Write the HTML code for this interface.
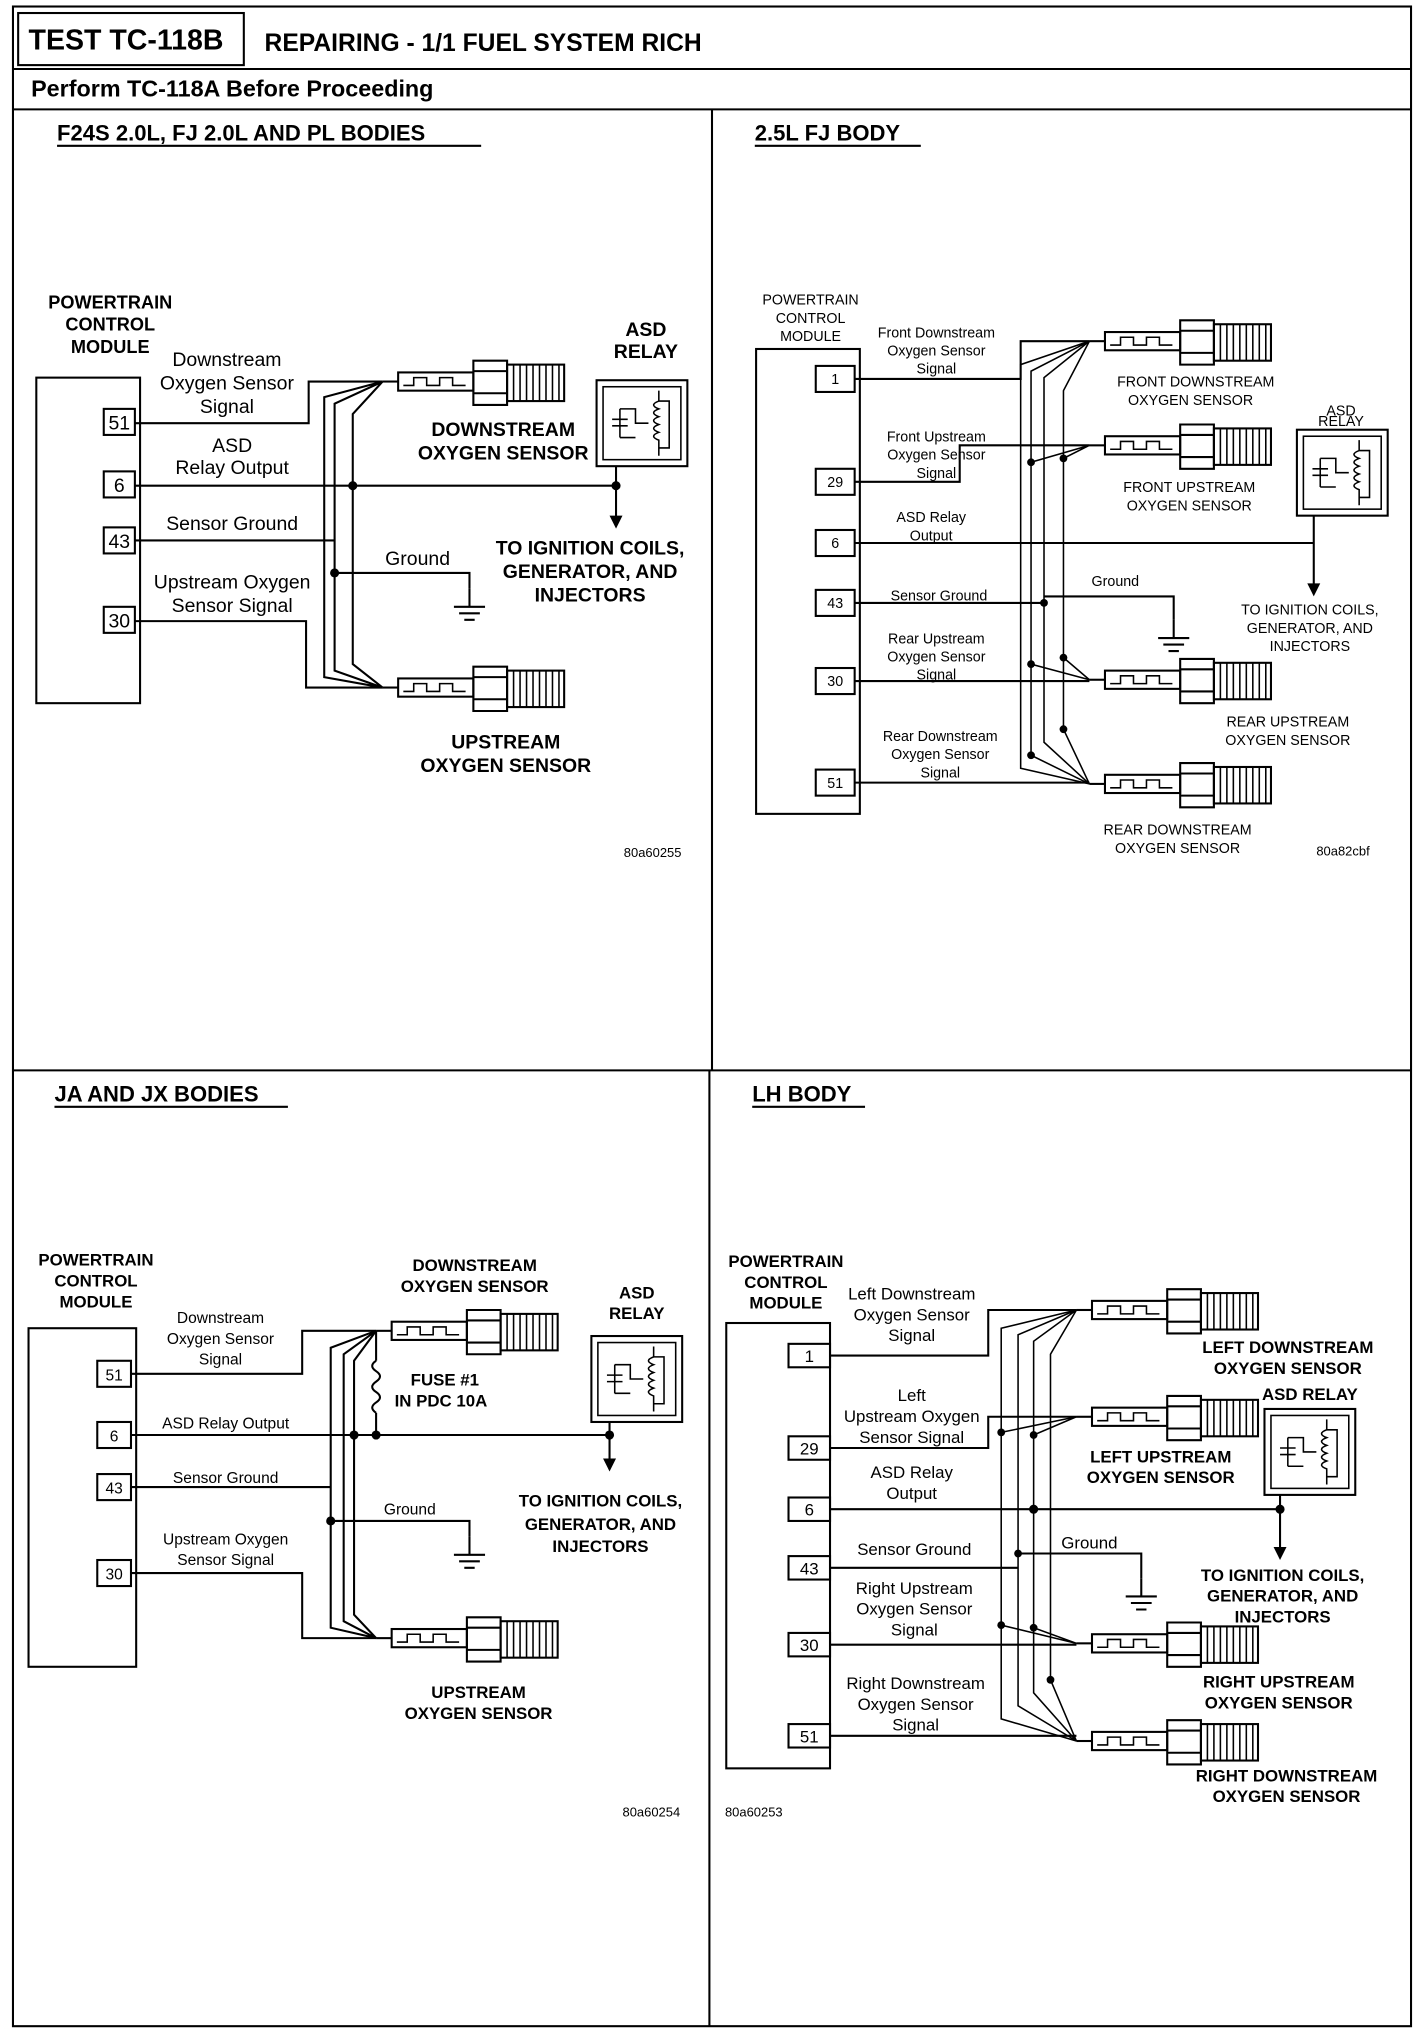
<!DOCTYPE html>
<html><head><meta charset="utf-8">
<style>
html,body{margin:0;padding:0;background:#fff;}
svg{display:block;}
text{font-family:"Liberation Sans",Arial,sans-serif;fill:#000;}
.b{font-weight:bold;}
.w{stroke:#000;stroke-width:1.6;fill:none;}
.t{stroke:#000;stroke-width:1.2;fill:none;}
</style></head><body>
<svg width="1424" height="2034" viewBox="0 0 1098 1562" preserveAspectRatio="none" xmlns="http://www.w3.org/2000/svg">
<defs>
<g id="sen">
 <line x1="0" y1="0" x2="12" y2="0" class="w"/>
 <rect x="12" y="-7" width="58" height="14" class="w" fill="#fff"/>
 <polyline points="16,3 24,3 24,-3 34,-3 34,3 44,3 44,-3 54,-3 54,3 64,3" class="t"/>
 <path d="M70,-16 L96,-16 L96,18 L70,18 Z M70,-8 L96,-8 M70,9 L96,9" class="w" fill="#fff"/>
 <rect x="96" y="-13" width="44" height="28" class="w" fill="#fff"/>
 <path d="M101,-13V15 M106,-13V15 M111,-13V15 M116,-13V15 M121,-13V15 M126,-13V15 M131,-13V15 M136,-13V15" class="t"/>
</g>
<g id="relay">
 <rect x="0" y="0" width="70" height="66" class="w"/>
 <rect x="5" y="5" width="60" height="56" class="t"/>
 <path d="M18,22 V44 M12,30 H24 M12,35 H24 M18,22 H30 V33 H40 M18,44 H30" class="t"/>
 <path d="M48,8 V16 q-8,3 0,6 q-8,3 0,6 q-8,3 0,6 q-8,3 0,6 q-8,3 0,6 V58 M48,16 H56 V52 H48" class="t"/>
</g>
<g id="gnd"><path d="M0,0 V14 M-12,14 H12 M-8,19 H8 M-4,24 H4" class="w"/></g>
</defs>

<!-- frame -->
<rect x="10" y="5" width="1078" height="1551" class="w" stroke-width="2"/>
<rect x="14" y="10" width="174" height="40" class="w" stroke-width="2"/>
<text x="22" y="38" class="b" font-size="22">TEST TC-118B</text>
<text x="204" y="39" class="b" font-size="19">REPAIRING - 1/1 FUEL SYSTEM RICH</text>
<line x1="10" y1="53" x2="1088" y2="53" class="w"/>
<text x="24" y="74" class="b" font-size="18">Perform TC-118A Before Proceeding</text>
<line x1="10" y1="84" x2="1088" y2="84" class="w" stroke-width="2"/>
<line x1="549" y1="84" x2="549" y2="822" class="w"/>
<line x1="547" y1="822" x2="547" y2="1556" class="w"/>
<line x1="10" y1="822" x2="1088" y2="822" class="w"/>

<!-- Q1 -->
<text x="44" y="108" class="b" font-size="17">F24S 2.0L, FJ 2.0L AND PL BODIES</text>
<line x1="44" y1="112" x2="371" y2="112" class="w"/>
<g class="b" font-size="14" text-anchor="middle"><text x="85" y="237">POWERTRAIN</text><text x="85" y="254">CONTROL</text><text x="85" y="271">MODULE</text></g>
<rect x="28" y="290" width="80" height="250" class="w"/>
<g font-size="15" text-anchor="middle"><rect x="80" y="314" width="24" height="20" class="w"/><text x="92" y="330">51</text>
<rect x="80" y="362" width="24" height="20" class="w"/><text x="92" y="378">6</text>
<rect x="80" y="405" width="24" height="20" class="w"/><text x="92" y="421">43</text>
<rect x="80" y="466" width="24" height="20" class="w"/><text x="92" y="482">30</text></g>
<g font-size="15" text-anchor="middle"><text x="175" y="281">Downstream</text><text x="175" y="299">Oxygen Sensor</text><text x="175" y="317">Signal</text>
<text x="179" y="347">ASD</text><text x="179" y="364">Relay Output</text><text x="179" y="407">Sensor Ground</text>
<text x="179" y="452">Upstream Oxygen</text><text x="179" y="470">Sensor Signal</text><text x="322" y="434">Ground</text></g>
<path d="M104,325 H238 V293 H295 M104,373 H475 M104,415 H258 M258,440 H362 V452 M104,477 H236 V528 H295" class="w"/>
<path d="M295,293 L250,305 V520 L295,528 M295,293 L258,310 V515 L295,528 M295,293 L272,318 V510 L295,528" class="w"/>
<circle cx="272" cy="373" r="3.5"/><circle cx="258" cy="440" r="3.5"/><circle cx="475" cy="373" r="3.5"/>
<use href="#gnd" x="362" y="452"/>
<use href="#sen" x="295" y="293"/><use href="#sen" x="295" y="528"/>
<use href="#relay" x="460" y="292"/>
<path d="M475,358 V398" class="w"/><path d="M470,396 L475,406 L480,396 Z"/>
<g class="b" font-size="15" text-anchor="middle"><text x="498" y="258">ASD</text><text x="498" y="275">RELAY</text>
<text x="388" y="335">DOWNSTREAM</text><text x="388" y="353">OXYGEN SENSOR</text>
<text x="455" y="426">TO IGNITION COILS,</text><text x="455" y="444">GENERATOR, AND</text><text x="455" y="462">INJECTORS</text>
<text x="390" y="575">UPSTREAM</text><text x="390" y="593">OXYGEN SENSOR</text></g>
<text x="481" y="658" font-size="10">80a60255</text>

<!-- Q2 -->
<text x="582" y="108" class="b" font-size="17">2.5L FJ BODY</text>
<line x1="582" y1="112" x2="710" y2="112" class="w"/>
<g font-size="11" text-anchor="middle"><text x="625" y="234">POWERTRAIN</text><text x="625" y="248">CONTROL</text><text x="625" y="262">MODULE</text></g>
<rect x="583" y="268" width="80" height="357" class="w"/>
<g font-size="11" text-anchor="middle">
<rect x="629" y="281" width="30" height="20" class="w"/><text x="644" y="295">1</text>
<rect x="629" y="360" width="30" height="20" class="w"/><text x="644" y="374">29</text>
<rect x="629" y="407" width="30" height="20" class="w"/><text x="644" y="421">6</text>
<rect x="629" y="453" width="30" height="20" class="w"/><text x="644" y="467">43</text>
<rect x="629" y="513" width="30" height="20" class="w"/><text x="644" y="527">30</text>
<rect x="629" y="591" width="30" height="20" class="w"/><text x="644" y="605">51</text>
<text x="722" y="259">Front Downstream</text><text x="722" y="273">Oxygen Sensor</text><text x="722" y="287">Signal</text>
<text x="722" y="339">Front Upstream</text><text x="722" y="353">Oxygen Sensor</text><text x="722" y="367">Signal</text>
<text x="718" y="401">ASD Relay</text><text x="718" y="415">Output</text><text x="724" y="461">Sensor Ground</text>
<text x="722" y="494">Rear Upstream</text><text x="722" y="508">Oxygen Sensor</text><text x="722" y="522">Signal</text>
<text x="725" y="569">Rear Downstream</text><text x="725" y="583">Oxygen Sensor</text><text x="725" y="597">Signal</text>
<text x="860" y="450">Ground</text>
<text x="922" y="297">FRONT DOWNSTREAM</text><text x="918" y="311">OXYGEN SENSOR</text>
<text x="917" y="378">FRONT UPSTREAM</text><text x="917" y="392">OXYGEN SENSOR</text>
<text x="1034" y="319">ASD</text><text x="1034" y="327">RELAY</text>
<text x="1010" y="472">TO IGNITION COILS,</text><text x="1010" y="486">GENERATOR, AND</text><text x="1010" y="500">INJECTORS</text>
<text x="993" y="558">REAR UPSTREAM</text><text x="993" y="572">OXYGEN SENSOR</text>
<text x="908" y="641">REAR DOWNSTREAM</text><text x="908" y="655">OXYGEN SENSOR</text></g>
<path d="M659,291 H787 V262 H840 M659,370 H740 V342 H840 M659,417 H1013 M659,463 H805 M805,458 H905 V476 M659,523 H840 M659,601 H840" class="w"/>
<path d="M840,262 L787,280 V590 L840,602 M840,262 L795,285 V580 L840,602 M840,262 L805,290 V570 L840,602 M840,262 L820,300 V560 L840,602 M840,342 L795,355 V510 L840,522 M840,342 L820,352 V505 L840,522" class="t"/>
<circle cx="795" cy="355" r="3"/><circle cx="820" cy="352" r="3"/><circle cx="805" cy="463" r="3"/><circle cx="795" cy="510" r="3"/><circle cx="820" cy="505" r="3"/><circle cx="820" cy="560" r="3"/><circle cx="795" cy="580" r="3"/>
<use href="#gnd" x="905" y="476"/>
<use href="#sen" x="840" y="262"/><use href="#sen" x="840" y="342"/><use href="#sen" x="840" y="522"/><use href="#sen" x="840" y="602"/>
<use href="#relay" x="1000" y="330" transform="translate(0,0)"/>
<path d="M1013,396 V450" class="w"/><path d="M1008,448 L1013,458 L1018,448 Z"/>
<text x="1015" y="657" font-size="10">80a82cbf</text>

<!-- Q3 -->
<text x="42" y="846" class="b" font-size="17">JA AND JX BODIES</text>
<line x1="42" y1="850" x2="222" y2="850" class="w"/>
<g class="b" font-size="13" text-anchor="middle"><text x="74" y="972">POWERTRAIN</text><text x="74" y="988">CONTROL</text><text x="74" y="1004">MODULE</text></g>
<rect x="22" y="1020" width="83" height="260" class="w"/>
<g font-size="12" text-anchor="middle">
<rect x="75" y="1045" width="26" height="20" class="w"/><text x="88" y="1060">51</text>
<rect x="75" y="1092" width="26" height="20" class="w"/><text x="88" y="1107">6</text>
<rect x="75" y="1132" width="26" height="20" class="w"/><text x="88" y="1147">43</text>
<rect x="75" y="1198" width="26" height="20" class="w"/><text x="88" y="1213">30</text>
<text x="170" y="1016">Downstream</text><text x="170" y="1032">Oxygen Sensor</text><text x="170" y="1048">Signal</text>
<text x="174" y="1097">ASD Relay Output</text><text x="174" y="1139">Sensor Ground</text>
<text x="174" y="1186">Upstream Oxygen</text><text x="174" y="1202">Sensor Signal</text><text x="316" y="1163">Ground</text></g>
<path d="M101,1055 H233 V1022 H290 M101,1102 H470 M101,1142 H255 M255,1168 H362 V1180 M101,1208 H233 V1258 H290 M290,1022 V1045 M290,1085 V1102" class="w"/>
<path d="M290,1045 q-6,4 0,8 q6,4 0,8 q-6,4 0,8 q6,4 0,8 q-6,4 0,8" class="w"/>
<path d="M290,1022 L255,1035 V1250 L290,1258 M290,1022 L265,1040 V1245 L290,1258 M290,1022 L273,1045 V1240 L290,1258" class="w"/>
<circle cx="273" cy="1102" r="3.5"/><circle cx="290" cy="1102" r="3.5"/><circle cx="255" cy="1168" r="3.5"/><circle cx="470" cy="1102" r="3.5"/>
<use href="#gnd" x="362" y="1180"/>
<use href="#sen" x="290" y="1022"/><use href="#sen" x="290" y="1258"/>
<use href="#relay" x="456" y="1026"/>
<path d="M470,1092 V1122" class="w"/><path d="M465,1120 L470,1130 L475,1120 Z"/>
<g class="b" font-size="13" text-anchor="middle"><text x="366" y="976">DOWNSTREAM</text><text x="366" y="992">OXYGEN SENSOR</text>
<text x="491" y="997">ASD</text><text x="491" y="1013">RELAY</text>
<text x="343" y="1064">FUSE #1</text><text x="340" y="1080">IN PDC 10A</text>
<text x="463" y="1157">TO IGNITION COILS,</text><text x="463" y="1175">GENERATOR, AND</text><text x="463" y="1192">INJECTORS</text>
<text x="369" y="1304">UPSTREAM</text><text x="369" y="1320">OXYGEN SENSOR</text></g>
<text x="480" y="1395" font-size="10">80a60254</text>

<!-- Q4 -->
<text x="580" y="846" class="b" font-size="17">LH BODY</text>
<line x1="580" y1="850" x2="667" y2="850" class="w"/>
<g class="b" font-size="13" text-anchor="middle"><text x="606" y="973">POWERTRAIN</text><text x="606" y="989">CONTROL</text><text x="606" y="1005">MODULE</text></g>
<rect x="560" y="1016" width="80" height="342" class="w"/>
<g font-size="13" text-anchor="middle">
<rect x="608" y="1032" width="32" height="18" class="w"/><text x="624" y="1046">1</text>
<rect x="608" y="1103" width="32" height="18" class="w"/><text x="624" y="1117">29</text>
<rect x="608" y="1150" width="32" height="18" class="w"/><text x="624" y="1164">6</text>
<rect x="608" y="1195" width="32" height="18" class="w"/><text x="624" y="1209">43</text>
<rect x="608" y="1254" width="32" height="18" class="w"/><text x="624" y="1268">30</text>
<rect x="608" y="1324" width="32" height="18" class="w"/><text x="624" y="1338">51</text>
<text x="703" y="998">Left Downstream</text><text x="703" y="1014">Oxygen Sensor</text><text x="703" y="1030">Signal</text>
<text x="703" y="1076">Left</text><text x="703" y="1092">Upstream Oxygen</text><text x="703" y="1108">Sensor Signal</text>
<text x="703" y="1135">ASD Relay</text><text x="703" y="1151">Output</text><text x="705" y="1194">Sensor Ground</text>
<text x="705" y="1224">Right Upstream</text><text x="705" y="1240">Oxygen Sensor</text><text x="705" y="1256">Signal</text>
<text x="706" y="1297">Right Downstream</text><text x="706" y="1313">Oxygen Sensor</text><text x="706" y="1329">Signal</text>
<text x="840" y="1189">Ground</text></g>
<path d="M640,1041 H762 V1006 H830 M640,1112 H762 V1088 H830 M640,1159 H987 M640,1204 H785 M785,1193 H880 V1212 M640,1263 H830 M640,1333 H830" class="w"/>
<path d="M830,1006 L772,1020 V1320 L830,1337 M830,1006 L785,1025 V1310 L830,1337 M830,1006 L797,1030 V1300 L830,1337 M830,1006 L810,1040 V1290 L830,1337 M830,1088 L772,1100 V1248 L830,1262 M830,1088 L797,1102 V1250 L830,1262" class="t"/>
<circle cx="772" cy="1100" r="3"/><circle cx="797" cy="1102" r="3"/><circle cx="797" cy="1159" r="3.5"/><circle cx="785" cy="1193" r="3"/><circle cx="987" cy="1159" r="3.5"/><circle cx="772" cy="1248" r="3"/><circle cx="797" cy="1250" r="3"/><circle cx="810" cy="1290" r="3"/>
<use href="#gnd" x="880" y="1212"/>
<use href="#sen" x="830" y="1006"/><use href="#sen" x="830" y="1088"/><use href="#sen" x="830" y="1262"/><use href="#sen" x="830" y="1337"/>
<use href="#relay" x="975" y="1082"/>
<path d="M987,1148 V1190" class="w"/><path d="M982,1188 L987,1198 L992,1188 Z"/>
<g class="b" font-size="13" text-anchor="middle"><text x="993" y="1039">LEFT DOWNSTREAM</text><text x="993" y="1055">OXYGEN SENSOR</text>
<text x="1010" y="1075">ASD RELAY</text>
<text x="895" y="1123">LEFT UPSTREAM</text><text x="895" y="1139">OXYGEN SENSOR</text>
<text x="989" y="1214">TO IGNITION COILS,</text><text x="989" y="1230">GENERATOR, AND</text><text x="989" y="1246">INJECTORS</text>
<text x="986" y="1296">RIGHT UPSTREAM</text><text x="986" y="1312">OXYGEN SENSOR</text>
<text x="992" y="1368">RIGHT DOWNSTREAM</text><text x="992" y="1384">OXYGEN SENSOR</text></g>
<text x="559" y="1395" font-size="10">80a60253</text>
</svg>
</body></html>
